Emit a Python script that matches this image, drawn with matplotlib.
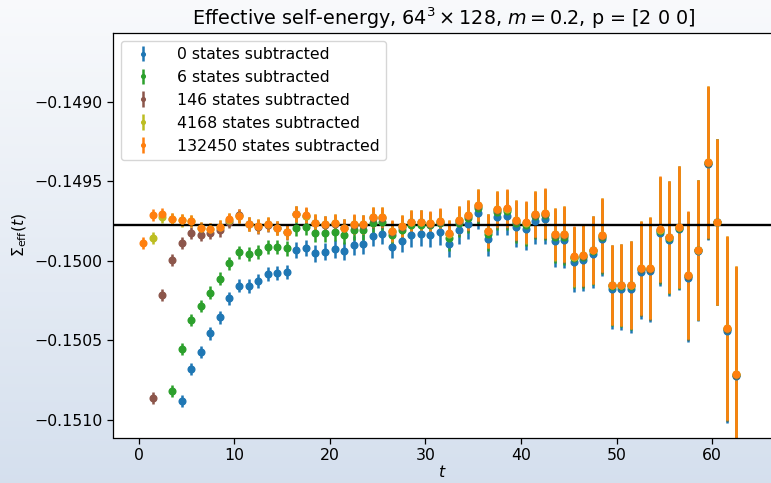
import numpy as np
import matplotlib
matplotlib.use("Agg")
import matplotlib.pyplot as plt
from matplotlib.ticker import FuncFormatter, FixedLocator

nan = np.nan

t = np.arange(0.5, 63.0, 1.0)

labels = ["0 states subtracted", "6 states subtracted", "146 states subtracted",
          "4168 states subtracted", "132450 states subtracted"]
colors = ["#1f77b4", "#2ca02c", "#8c564b", "#bcbd22", "#ff7f0e"]

sigma_0 = [nan, nan, nan, nan,
           -0.150884, -0.150682, -0.150573, -0.150458, -0.150357, -0.150238, -0.150158,
           -0.150158, -0.150127, -0.150087, -0.150077, -0.150072, -0.149934, -0.149923,
           -0.149955, -0.149945, -0.149928, -0.149938, -0.149903, -0.149896, -0.149846,
           -0.149833, -0.149917, -0.149875, -0.149840, -0.149833, -0.149842, -0.149821,
           -0.149898, -0.149808, -0.149770, -0.149703, -0.149865, -0.149726, -0.149718,
           -0.149791, -0.149802, -0.149750, -0.149741, -0.149875, -0.149871, -0.150008,
           -0.149997, -0.149959, -0.149867, -0.150181, -0.150181, -0.150177, -0.150070,
           -0.150066, -0.149825, -0.149871, -0.149804, -0.150108, -0.149940, -0.149395,
           -0.149760, -0.150441, -0.150726]

sigma_6 = [nan, nan, nan,
           -0.150819, -0.150557, -0.150374, -0.150286, -0.150202, -0.150116, -0.150018,
           -0.149948, -0.149959, -0.149945, -0.149913, -0.149913, -0.149923, -0.149794,
           -0.149791, -0.149829, -0.149829, -0.149819, -0.149840, -0.149808, -0.149808,
           -0.149762, -0.149756, -0.149840, -0.149808, -0.149777, -0.149777, -0.149777,
           -0.149767, -0.149860, -0.149767, -0.149735, -0.149672, -0.149830, -0.149693,
           -0.149688, -0.149763, -0.149775, -0.149722, -0.149716, -0.149850, -0.149849,
           -0.149986, -0.149978, -0.149943, -0.149851, -0.150162, -0.150162, -0.150161,
           -0.150055, -0.150054, -0.149812, -0.149858, -0.149793, -0.150099, -0.149935,
           -0.149387, -0.149758, -0.150431, -0.150719]

sigma_146 = [nan,
             -0.150867, -0.150217, -0.149997, -0.149888, -0.149829, -0.149840, -0.149825,
             -0.149808, -0.149756, -0.149714, -0.149771, -0.149786, -0.149775, -0.149797,
             -0.149822, -0.149710, -0.149720, -0.149766, -0.149774, -0.149770, -0.149798,
             -0.149774, -0.149776, -0.149732, -0.149732, -0.149818, -0.149787, -0.149760,
             -0.149760, -0.149770, -0.149755, -0.149833, -0.149749, -0.149718, -0.149655,
             -0.149817, -0.149680, -0.149676, -0.149751, -0.149764, -0.149712, -0.149707,
             -0.149839, -0.149839, -0.149978, -0.149971, -0.149936, -0.149844, -0.150156,
             -0.150156, -0.150156, -0.150051, -0.150051, -0.149808, -0.149854, -0.149791,
             -0.150097, -0.149936, -0.149386, -0.149760, -0.150430, -0.150718]

sigma_4168 = [nan,
              -0.149857, -0.149724, -0.149740, -0.149748, -0.149752, -0.149795, -0.149803,
              -0.149788, -0.149742, -0.149721, -0.149769, -0.149784, -0.149773, -0.149795,
              -0.149820, -0.149707, -0.149717, -0.149763, -0.149771, -0.149767, -0.149795,
              -0.149771, -0.149773, -0.149729, -0.149729, -0.149815, -0.149784, -0.149757,
              -0.149757, -0.149767, -0.149752, -0.149830, -0.149746, -0.149715, -0.149652,
              -0.149814, -0.149677, -0.149673, -0.149748, -0.149761, -0.149709, -0.149704,
              -0.149836, -0.149836, -0.149975, -0.149968, -0.149933, -0.149841, -0.150153,
              -0.150153, -0.150153, -0.150048, -0.150048, -0.149805, -0.149851, -0.149788,
              -0.150094, -0.149933, -0.149383, -0.149757, -0.150427, -0.150715]

sigma_132450 = [-0.149892, -0.149714, -0.149709, -0.149739, -0.149747, -0.149751, -0.149794,
                -0.149802, -0.149787, -0.149741, -0.149720, -0.149768, -0.149783, -0.149772,
                -0.149794, -0.149819, -0.149706, -0.149716, -0.149762, -0.149770, -0.149766,
                -0.149794, -0.149770, -0.149772, -0.149728, -0.149728, -0.149814, -0.149783,
                -0.149756, -0.149756, -0.149766, -0.149751, -0.149829, -0.149745, -0.149714,
                -0.149651, -0.149813, -0.149676, -0.149672, -0.149747, -0.149760, -0.149708,
                -0.149703, -0.149835, -0.149835, -0.149974, -0.149967, -0.149932, -0.149840,
                -0.150152, -0.150152, -0.150152, -0.150047, -0.150047, -0.149804, -0.149850,
                -0.149787, -0.150093, -0.149932, -0.149382, -0.149756, -0.150426, -0.150714]

sigma_err = [3.8e-5, 3.8e-5, 3.8e-5, 3.8e-5, 3.8e-5, 3.8e-5, 3.8e-5,
             4.1e-5, 4.1e-5, 4.1e-5, 4.1e-5,
             4.4e-5, 4.4e-5, 4.4e-5, 4.4e-5,
             4.7e-5, 5.0e-5, 5.0e-5, 5.3e-5, 5.3e-5, 5.7e-5, 5.7e-5, 6.0e-5, 6.0e-5,
             6.3e-5, 6.3e-5, 6.6e-5, 6.9e-5, 7.2e-5, 7.5e-5, 7.5e-5, 7.9e-5, 8.2e-5,
             8.8e-5, 9.4e-5, 1.01e-4, 1.07e-4, 1.13e-4, 1.19e-4, 1.26e-4, 1.32e-4,
             1.45e-4, 1.57e-4, 1.64e-4, 1.76e-4, 1.89e-4, 1.95e-4, 2.14e-4, 2.33e-4,
             2.52e-4, 2.58e-4, 2.77e-4, 2.96e-4, 3.21e-4, 3.33e-4, 3.52e-4, 3.84e-4,
             4.02e-4, 4.40e-4, 4.78e-4, 5.22e-4, 5.79e-4, 6.79e-4]

sigma_ref = -0.149778

series = [sigma_0, sigma_6, sigma_146, sigma_4168, sigma_132450]

FS = 11.3
fig = plt.figure(figsize=(7.71, 4.83), dpi=100)

# background gradient
bg = fig.add_axes([0, 0, 1, 1], zorder=-10)
grad = np.linspace(0, 1, 256).reshape(-1, 1)
top = np.array([0.975, 0.98, 0.988])
bot = np.array([0.835, 0.877, 0.933])
img = top[None, None, :] * (1 - grad[:, :, None]) + bot[None, None, :] * grad[:, :, None]
bg.imshow(img, aspect="auto", extent=[0, 1, 0, 1], origin="upper")
bg.set_axis_off()

ax = fig.add_axes([113 / 771, (483 - 437.5) / 483, 1 - 113 / 771 + 0.002, (437.5 - 33) / 483])
ax.set_facecolor("white")

for vals, lab, col in zip(series, labels, colors):
    ax.errorbar(t, vals, yerr=sigma_err, fmt="o", color=col, markersize=4.8,
                elinewidth=1.8, capsize=0, label=lab)

ax.axhline(sigma_ref, color="black", lw=1.7)

ax.set_xlim(-2.67, 66.3)
ax.set_ylim(-0.151113, -0.148569)
ax.yaxis.set_major_locator(FixedLocator([-0.1510, -0.1505, -0.1500, -0.1495, -0.1490]))
ax.yaxis.set_major_formatter(FuncFormatter(lambda v, p: ("%.4f" % v).replace("-", "\u2212")))
ax.set_xticks([0, 10, 20, 30, 40, 50, 60])
ax.tick_params(labelsize=FS, length=4, width=0.9)
for s in ax.spines.values():
    s.set_linewidth(0.9)
ax.spines["right"].set_visible(False)

ax.set_xlabel("$t$", fontsize=FS, labelpad=1)
ax.set_ylabel(r"$\Sigma_{\mathrm{eff}}(t)$", fontsize=FS, labelpad=4)
ax.set_title(r"Effective self-energy, $64^3 \times 128$, $m = 0.2$, p = [2 0 0]",
             fontsize=13.8, pad=6, x=(443 - 113) / (771 - 113))

ax.legend(loc="upper left", fontsize=FS, markerscale=0.55, handletextpad=1.2)

fig.savefig("out.png", dpi=100)
